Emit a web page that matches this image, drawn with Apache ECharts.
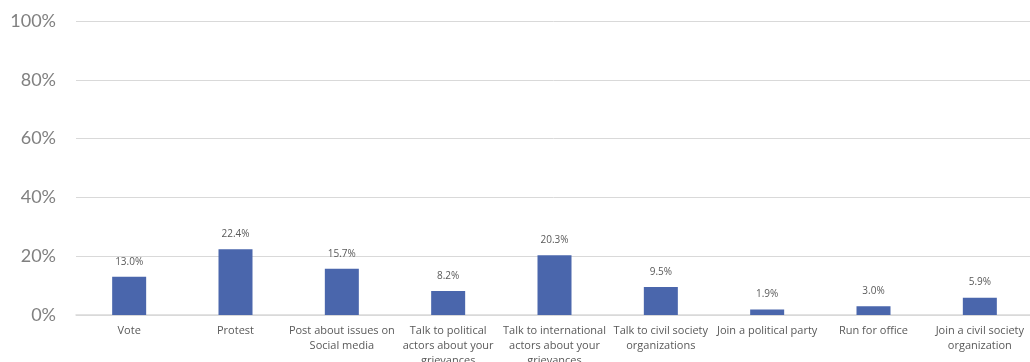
<!DOCTYPE html>
<html>
<head>
<meta charset="utf-8">
<script src="https://cdn.jsdelivr.net/npm/echarts@6/dist/echarts.min.js"></script>
<style>
html,body{margin:0;padding:0;background:#fff;}
#chart{width:1030px;height:362px;}
</style>
</head>
<body>
<div id="chart"></div>
<script>
// 类目与数值
var categories = [
    'Vote',
    'Protest',
    'Post about issues on\nSocial media',
    'Talk to political\nactors about your\ngrievances',
    'Talk to international\nactors about your\ngrievances',
    'Talk to civil society\norganizations',
    'Join a political party',
    'Run for office',
    'Join a civil society\norganization'
];
var values = [13.0, 22.4, 15.7, 8.2, 20.3, 9.5, 1.9, 3.0, 5.9];
var yTicks = [0, 20, 40, 60, 80, 100];

var chart = echarts.init(document.getElementById('chart'));
chart.setOption({
    animation: false,
    grid: {left: 76, top: 21, width: 957, bottom: 47, containLabel: false, outerBoundsMode: 'none'},
    xAxis: {
        type: 'category',
        data: categories,
        axisTick: {show: false},
        axisLine: {lineStyle: {color: '#d9d9d9', width: 1.5}},
        axisLabel: {
            interval: 0,
            margin: 8,
            color: '#595959',
            fontSize: 11,
            lineHeight: 15,
            fontFamily: 'Open Sans'
        }
    },
    yAxis: {
        type: 'value',
        min: yTicks[0],
        max: yTicks[yTicks.length - 1],
        interval: 20,
        axisLine: {show: false},
        axisTick: {show: false},
        splitLine: {lineStyle: {color: '#d9d9d9', width: 1}},
        axisLabel: {
            margin: 20,
            color: '#808080',
            fontSize: 18,
            fontFamily: 'Lato',
            formatter: function(v){ return v + '%'; }
        }
    },
    series: [{
        type: 'bar',
        data: values,
        barWidth: 34,
        itemStyle: {color: '#4a66ac'},
        label: {
            show: true,
            position: 'top',
            distance: 10,
            color: '#595959',
            fontSize: 10,
            fontFamily: 'Open Sans',
            formatter: function(p){ return p.value.toFixed(1) + '%'; }
        }
    }]
});
</script>
</body>
</html>
